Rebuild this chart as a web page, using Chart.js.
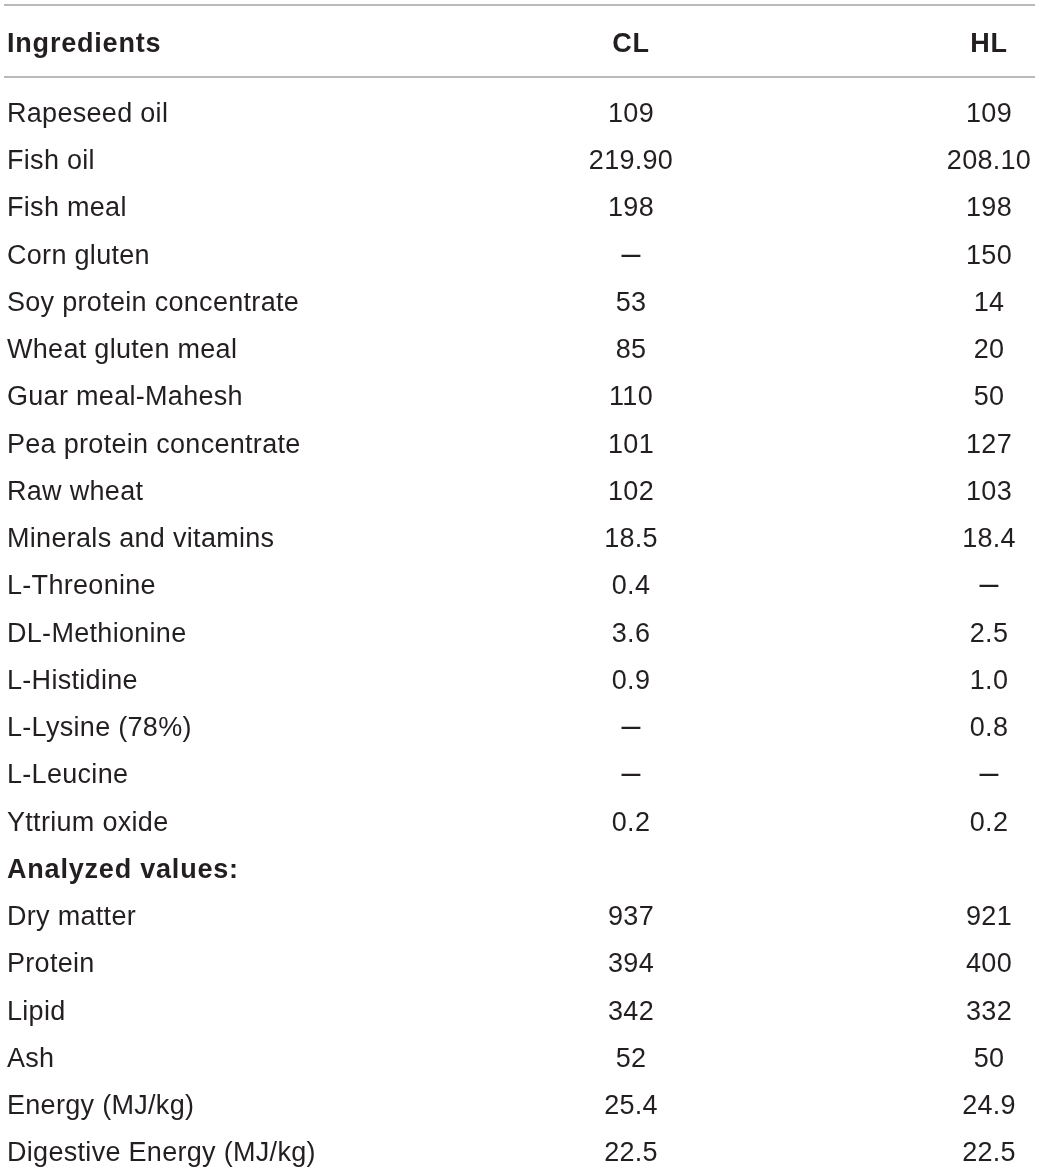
<!DOCTYPE html>
<html lang="en">
<head>
  <meta charset="UTF-8">
  <title>Diet composition</title>
  <script src="https://cdn.jsdelivr.net/npm/chart.js"></script>
  <style>
    body { margin: 0; background: #fff; }
    canvas { display: block; }
  </style>
</head>
<body>
  <canvas id="tableChart" width="1040" height="1174"></canvas>
  <script>
    // table content
    const columns = ['Ingredients', 'CL', 'HL'];
    const rowLabels = [
      'Rapeseed oil', 'Fish oil', 'Fish meal', 'Corn gluten', 'Soy protein concentrate',
      'Wheat gluten meal', 'Guar meal-Mahesh', 'Pea protein concentrate', 'Raw wheat',
      'Minerals and vitamins', 'L-Threonine', 'DL-Methionine', 'L-Histidine',
      'L-Lysine (78%)', 'L-Leucine', 'Yttrium oxide', 'Analyzed values:',
      'Dry matter', 'Protein', 'Lipid', 'Ash', 'Energy (MJ/kg)', 'Digestive Energy (MJ/kg)'
    ];
    const boldRows = ['Analyzed values:'];
    const clValues = ['109', '219.90', '198', null, '53', '85', '110', '101', '102', '18.5',
      '0.4', '3.6', '0.9', null, null, '0.2', '',
      '937', '394', '342', '52', '25.4', '22.5'];
    const hlValues = ['109', '208.10', '198', '150', '14', '20', '50', '127', '103', '18.4',
      null, '2.5', '1.0', '0.8', null, '0.2', '',
      '921', '400', '332', '50', '24.9', '22.5'];

    const colX = { label: 7, CL: 631, HL: 989 };
    const headerRow = -1.48;
    const ruleRows = [-2.476, -0.952];

    const FONT = '27px "Liberation Sans", Arial, sans-serif';
    const BOLD = 'bold 27px "Liberation Sans", Arial, sans-serif';
    const DASH_FONT = '34px "Liberation Sans", Arial, sans-serif';

    function cellData(x) {
      return rowLabels.map((_, i) => ({ x: x, y: i }));
    }

    const datasets = [
      { type: 'scatter', label: 'label', data: cellData(colX.label), pointRadius: 0, texts: rowLabels, align: 'left' },
      { type: 'scatter', label: 'CL', data: cellData(colX.CL), pointRadius: 0, texts: clValues, align: 'center' },
      { type: 'scatter', label: 'HL', data: cellData(colX.HL), pointRadius: 0, texts: hlValues, align: 'center' },
      { type: 'scatter', label: 'header', data: [
          { x: colX.label, y: headerRow }, { x: colX.CL, y: headerRow }, { x: colX.HL, y: headerRow }
        ], pointRadius: 0, texts: columns, aligns: ['left', 'center', 'center'], header: true }
    ];
    ruleRows.forEach(r => {
      datasets.push({
        type: 'line', label: 'rule', data: [{ x: 4, y: r }, { x: 1035, y: r }],
        borderColor: '#a3a3a3', borderWidth: 1.6, pointRadius: 0, rule: true
      });
    });

    const cellText = {
      id: 'cellText',
      afterDatasetsDraw(chart) {
        const ctx = chart.ctx;
        ctx.save();
        ctx.fillStyle = '#231f20';
        ctx.textBaseline = 'alphabetic';
        chart.data.datasets.forEach((ds, di) => {
          if (ds.rule) return;
          const meta = chart.getDatasetMeta(di);
          meta.data.forEach((pt, i) => {
            let txt = ds.texts[i];
            if (txt === '') return;
            const bold = ds.header || boldRows.includes(rowLabels[i]) && ds.align === 'left';
            ctx.font = bold ? BOLD : FONT;
            ctx.letterSpacing = bold ? '0.8px' : '0.3px';
            if (txt === null) {
              // missing value shown as a dash
              txt = '\u2013';
              ctx.font = DASH_FONT;
              ctx.letterSpacing = '0px';
            }
            ctx.textAlign = ds.aligns ? ds.aligns[i] : ds.align;
            ctx.fillText(txt, pt.x, pt.y);
          });
        });
        ctx.restore();
      }
    };

    new Chart(document.getElementById('tableChart'), {
      data: { datasets: datasets },
      options: {
        responsive: false,
        animation: false,
        events: [],
        layout: { padding: 0 },
        plugins: { legend: { display: false }, tooltip: { enabled: false } },
        scales: {
          x: { type: 'linear', min: 0, max: 1040, display: false },
          y: { type: 'linear', min: -2.582, max: 22.265, reverse: true, display: false }
        }
      },
      plugins: [cellText]
    });
  </script>
</body>
</html>
